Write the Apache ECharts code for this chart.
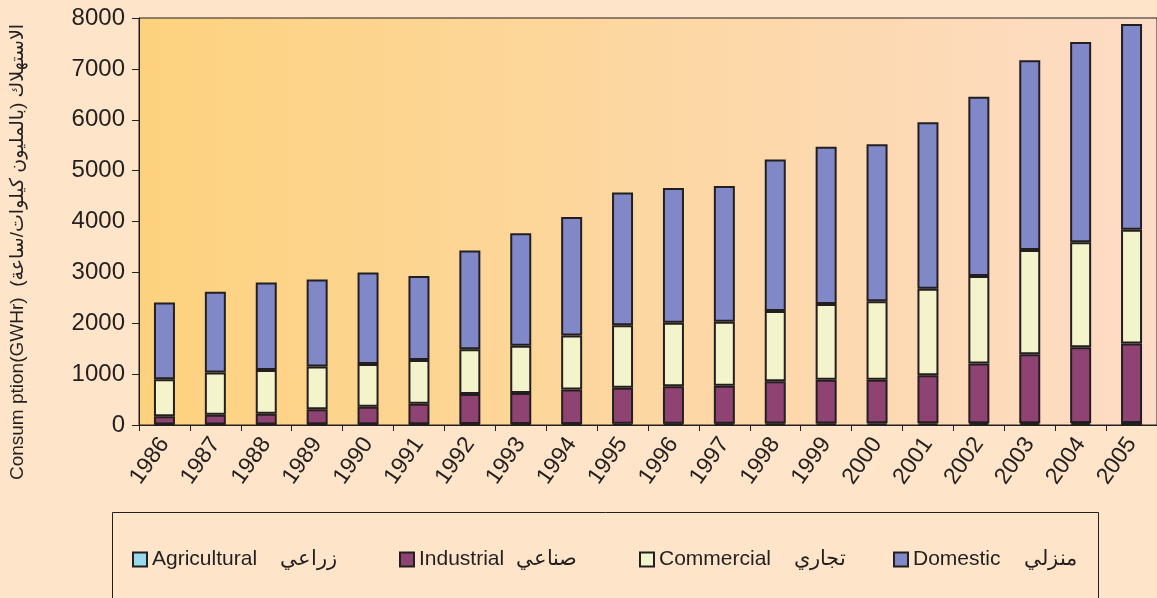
<!DOCTYPE html>
<html>
<head>
<meta charset="utf-8">
<script src="https://cdn.jsdelivr.net/npm/echarts@6/dist/echarts.min.js"></script>
<style>
  html, body { margin: 0; padding: 0; background: #fee4c8; }
  #chart { width: 1157px; height: 598px; }
</style>
</head>
<body>
<div id="chart"></div>
<script>
// years on the x axis
const years = ["1986","1987","1988","1989","1990","1991","1992","1993","1994","1995",
  "1996","1997","1998","1999","2000","2001","2002","2003","2004","2005"];
// consumption per sector, GWh
const agricultural = [10,12,12,14,15,15,18,20,22,24,25,27,30,30,32,33,35,36,38,40];
const industrial = [160,188,208,296,345,405,592,610,678,706,735,743,830,860,858,947,1175,1354,1492,1560];
const commercial = [730,830,860,840,840,860,880,930,1060,1230,1250,1260,1380,1490,1540,1700,1720,2050,2060,2240];
const domestic = [1510,1590,1720,1710,1800,1650,1940,2210,2330,2610,2650,2670,2980,3090,3090,3270,3520,3730,3940,4040];
const yTicks = [0,1000,2000,3000,4000,5000,6000,7000,8000];

const names = ["Agricultural    زراعي", "Industrial  صناعي", "Commercial    تجاري", "Domestic    منزلي"];
const colors = ["#99d9ec", "#8e4373", "#f3f4cc", "#8088c8"];
const values = [agricultural, industrial, commercial, domestic];
const legendLeft = [127, 394, 634, 888];

const ink = "#231f20";
const sans = "'Liberation Sans', Arial, sans-serif";
const chart = echarts.init(document.getElementById("chart"));

const option = {
  backgroundColor: "#fee4c8",
  animation: false,
  grid: {
    left: 139,
    top: 18,
    bottom: 173,
    right: -11,
    show: true,
    borderColor: ink,
    borderWidth: 1,
    backgroundColor: new echarts.graphic.LinearGradient(0, 0, 1, 0, [
      { offset: 0, color: "#fdd27e" },
      { offset: 1, color: "#fddcc6" },
    ]),
  },
  xAxis: {
    type: "category",
    data: years,
    axisLine: { lineStyle: { color: ink, width: 1 } },
    axisTick: { show: true, length: 6, lineStyle: { color: ink } },
    axisLabel: {
      rotate: 55,
      margin: 15,
      color: ink,
      fontFamily: sans,
      fontSize: 23,
      interval: 0,
    },
  },
  yAxis: {
    type: "value",
    min: yTicks[0],
    max: yTicks[yTicks.length - 1],
    interval: 1000,
    splitLine: { show: false },
    axisLine: { show: true, lineStyle: { color: ink } },
    axisTick: { show: true, length: 7, lineStyle: { color: ink } },
    axisLabel: {
      margin: 14,
      color: ink,
      fontFamily: sans,
      fontSize: 24,
      formatter: (v) => String(v),
    },
  },
  legend: names.map((n, i) => ({
    data: [{ name: n, icon: "rect" }],
    left: legendLeft[i],
    top: 544,
    itemWidth: 14,
    itemHeight: 14,
    itemGap: 0,
    textStyle: { color: ink, fontFamily: sans, fontSize: 21 },
  })),
  graphic: [
    {
      type: "rect",
      shape: { x: 112.5, y: 512.5, width: 986, height: 120 },
      style: { fill: "none", stroke: ink, lineWidth: 1 },
      silent: true,
    },
    {
      type: "text",
      x: 18,
      y: 252,
      rotation: Math.PI / 2,
      style: {
        text: "Consum ption(GWHr)  الاستهلاك (بالمليون كيلوات/ساعة)",
        fill: ink,
        font: "19px 'Liberation Sans', 'DejaVu Sans', sans-serif",
        align: "center",
        verticalAlign: "middle",
      },
    },
  ],
  series: names.map((n, i) => ({
    name: n,
    type: "bar",
    stack: "total",
    barWidth: 21,
    data: values[i],
    itemStyle: { color: colors[i], borderColor: "#231f20", borderWidth: 2 },
  })),
};
chart.setOption(option);
</script>
</body>
</html>
